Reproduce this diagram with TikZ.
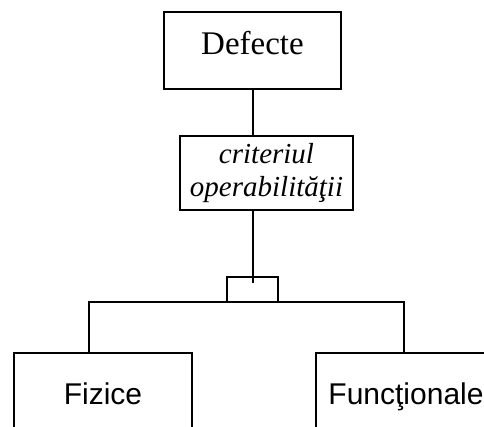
\documentclass[tikz,border=0pt]{standalone}
\usepackage{fontspec}
\setmainfont{Liberation Serif}
\setsansfont{Liberation Sans}
\begin{document}
\begin{tikzpicture}[x=1pt,y=-1pt,
  box/.style={draw=black,line width=2pt,inner sep=0pt,fill=white},
  link/.style={draw=black,line width=2pt}]
\clip (0,0) rectangle (484,427);
\fill[white] (0,0) rectangle (484,427);

% top box
\node[box,minimum width=177pt,minimum height=77pt,
      font=\fontsize{33}{36}\selectfont,text height=22pt,text depth=13pt]
  (def) at (252.5,50.5) {Defecte};

% criterion box
\node[box,minimum width=173pt,minimum height=74pt,align=center,
      font=\fontsize{29}{33}\selectfont\itshape]
  (crit) at (266.5,173) {criteriul\\operabilităţii};

% small junction box
\node[box,minimum width=51pt,minimum height=25pt] (join) at (252.5,289.5) {};

% lower boxes (run past the lower edge)
\node[box,minimum width=178pt,minimum height=80pt,
      font=\sffamily\fontsize{30}{34}\selectfont,text height=22pt,text depth=0pt]
  (fiz) at (103,393) {Fizice};
\node[box,minimum width=180pt,minimum height=80pt,
      font=\sffamily\fontsize{30}{34}\selectfont,text height=22pt,text depth=0pt]
  (fun) at (406,393) {Funcţionale};

% connectors
\coordinate (tip) at (253,283);
\coordinate (lft) at (89,302);
\coordinate (rgt) at (404,302);
\draw[link] (def.south -| tip) -- (crit.north -| tip);
\draw[link] (crit.south -| tip) -- (tip);
\draw[link] (lft |- fiz.north) -- (lft) -- (rgt) -- (rgt |- fun.north);
\end{tikzpicture}
\end{document}
